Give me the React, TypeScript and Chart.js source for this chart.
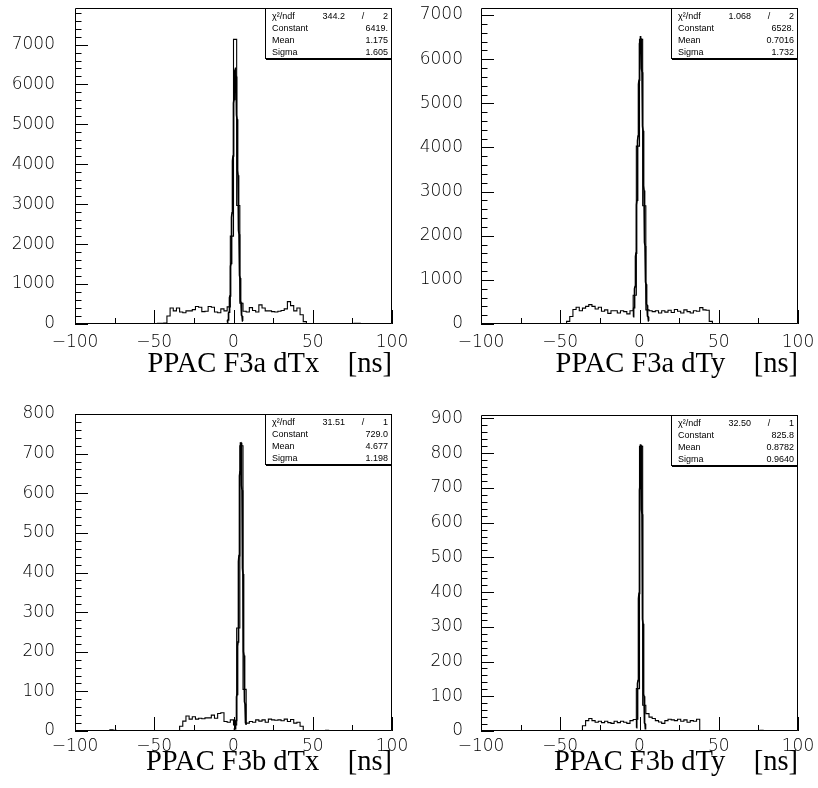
import { useEffect, useRef } from 'react';
import { Chart, registerables } from 'chart.js';

Chart.register(...registerables);

// All four histograms use 100 bins of 2 ns from -100 ns to +100 ns.
const binLow = -100;
const binWidth = 2;

// Bin contents, ten bins (20 ns) per row.
const f3aDtxCounts = [
  0, 0, 0, 0, 0, 0, 0, 0, 0, 0, // -100 .. -82
  0, 0, 0, 0, 0, 0, 0, 0, 0, 0, // -80 .. -62
  0, 0, 0, 0, 0, 0, 15, 20, 25, 200, // -60 .. -42
  400, 330, 400, 300, 280, 330, 330, 360, 440, 420, // -40 .. -22
  310, 320, 440, 420, 300, 280, 380, 330, 430, 2200, // -20 .. -2
  7130, 2970, 520, 320, 300, 410, 340, 300, 480, 400, // 0 .. 18
  330, 330, 310, 300, 320, 340, 380, 560, 460, 330, // 20 .. 38
  400, 230, 60, 0, 0, 0, 0, 0, 0, 0, // 40 .. 58
  0, 0, 0, 0, 0, 0, 0, 0, 15, 15, // 60 .. 78
  0, 0, 0, 0, 0, 0, 0, 0, 0, 0, // 80 .. 98
];

const f3aDtyCounts = [
  0, 0, 0, 0, 0, 0, 0, 0, 0, 0,
  0, 0, 0, 0, 0, 0, 0, 0, 0, 0,
  0, 0, 0, 0, 0, 0, 0, 60, 170, 330,
  380, 300, 360, 400, 440, 400, 340, 380, 290, 320,
  240, 300, 300, 250, 300, 280, 230, 300, 650, 4030,
  6450, 2680, 320, 300, 280, 300, 250, 300, 270, 310,
  260, 330, 290, 250, 320, 280, 250, 300, 290, 370,
  320, 310, 60, 0, 0, 0, 0, 0, 10, 0,
  0, 0, 0, 0, 0, 0, 0, 0, 0, 0,
  0, 0, 0, 0, 0, 0, 0, 0, 0, 0,
];

const f3bDtxCounts = [
  0, 0, 0, 0, 0, 0, 0, 0, 0, 0,
  0, 3, 2, 0, 0, 0, 0, 0, 0, 0,
  0, 0, 0, 0, 0, 0, 0, 0, 0, 0,
  0, 0, 0, 12, 25, 38, 30, 36, 30, 32,
  31, 33, 33, 40, 32, 44, 46, 24, 22, 28,
  15, 260, 720, 105, 20, 24, 22, 28, 25, 28,
  22, 30, 28, 27, 28, 26, 30, 24, 29, 20,
  22, 12, 0, 0, 0, 0, 0, 0, 0, 2,
  0, 0, 0, 0, 0, 0, 0, 0, 0, 0,
  0, 0, 0, 0, 0, 0, 0, 0, 0, 0,
];

const f3bDtyCounts = [
  0, 0, 0, 0, 0, 0, 0, 0, 0, 0,
  0, 0, 0, 0, 0, 0, 0, 0, 0, 0,
  0, 0, 0, 0, 0, 0, 0, 0, 0, 0,
  0, 0, 15, 30, 36, 30, 25, 28, 24, 28,
  24, 22, 28, 24, 28, 25, 22, 30, 33, 122,
  820, 74, 50, 40, 36, 30, 26, 22, 30, 34,
  32, 30, 34, 28, 32, 25, 30, 28, 34, 0,
  0, 0, 0, 0, 0, 0, 0, 0, 0, 0,
  0, 0, 0, 0, 0, 0, 0, 0, 2, 0,
  0, 0, 0, 0, 0, 0, 0, 0, 0, 0,
];

// Gaussian fit results: chi2, ndf, Constant, Mean, Sigma
const f3aDtxFit = ['344.2', '2', '6419.', '1.175', '1.605'];
const f3aDtyFit = ['1.068', '2', '6528.', '0.7016', '1.732'];
const f3bDtxFit = ['31.51', '1', '729.0', '4.677', '1.198'];
const f3bDtyFit = ['32.50', '1', '825.8', '0.8782', '0.9640'];

// Fit ranges (ns)
const f3aDtxFitRange = [-4, 6];
const f3aDtyFitRange = [-4, 6];
const f3bDtxFitRange = [0, 8];
const f3bDtyFitRange = [-2, 4];

// Axis ranges and labelled ticks
const xTicks = [-100, -50, 0, 50, 100];
const f3aYTicks = [0, 1000, 2000, 3000, 4000, 5000, 6000, 7000];
const f3bDtxYTicks = [0, 100, 200, 300, 400, 500, 600, 700, 800];
const f3bDtyYTicks = [0, 100, 200, 300, 400, 500, 600, 700, 800, 900];
const f3aDtxYMax = 7915;
const f3aDtyYMax = 7160;
const f3bDtxYMax = 800;
const f3bDtyYMax = 910;

const titles = ['PPAC F3a dTx    [ns]', 'PPAC F3a dTy    [ns]', 'PPAC F3b dTx    [ns]', 'PPAC F3b dTy    [ns]'];

type Spec = {
  counts: number[];
  fit: string[];
  fitRange: number[];
  yTicks: number[];
  yMax: number;
  yMajor: number;
  yMinor: number;
  title: string;
  left: number;
  top: number;
  width: number;
  height: number;
  area: { l: number; t: number; r: number; b: number };
  yLabelPad: number;
  xLabelPad: number;
  titlePad: number;
};

const specs: Spec[] = [
  {
    counts: f3aDtxCounts, fit: f3aDtxFit, fitRange: f3aDtxFitRange, yTicks: f3aYTicks, yMax: f3aDtxYMax,
    yMajor: 1000, yMinor: 200, title: titles[0],
    left: 0, top: 0, width: 420, height: 394, area: { l: 75, t: 8, r: 392, b: 324 },
    yLabelPad: 20, xLabelPad: 10, titlePad: 15.5,
  },
  {
    counts: f3aDtyCounts, fit: f3aDtyFit, fitRange: f3aDtyFitRange, yTicks: f3aYTicks, yMax: f3aDtyYMax,
    yMajor: 1000, yMinor: 200, title: titles[1],
    left: 400, top: 0, width: 418, height: 394, area: { l: 81, t: 8, r: 398, b: 324 },
    yLabelPad: 18, xLabelPad: 10, titlePad: 15.5,
  },
  {
    counts: f3bDtxCounts, fit: f3bDtxFit, fitRange: f3bDtxFitRange, yTicks: f3bDtxYTicks, yMax: f3bDtxYMax,
    yMajor: 100, yMinor: 20, title: titles[2],
    left: 0, top: 394, width: 420, height: 394, area: { l: 75, t: 20, r: 392, b: 337 },
    yLabelPad: 20, xLabelPad: 7.5, titlePad: 11,
  },
  {
    counts: f3bDtyCounts, fit: f3bDtyFit, fitRange: f3bDtyFitRange, yTicks: f3bDtyYTicks, yMax: f3bDtyYMax,
    yMajor: 100, yMinor: 20, title: titles[3],
    left: 400, top: 394, width: 418, height: 394, area: { l: 81, t: 21, r: 398, b: 337 },
    yLabelPad: 18, xLabelPad: 7.5, titlePad: 11,
  },
];

const labelFont = { family: "'DejaVu Sans', sans-serif", size: 17, weight: '200' as any, lineHeight: 1 };

function histogramPoints(counts: number[]) {
  const pts = counts.map((c, i) => ({ x: binLow + i * binWidth, y: c }));
  pts.push({ x: binLow + counts.length * binWidth, y: counts[counts.length - 1] });
  return pts;
}

function gaussPoints(fit: string[], range: number[]) {
  const c = Number(fit[2]);
  const m = Number(fit[3]);
  const s = Number(fit[4]);
  const pts: { x: number; y: number }[] = [];
  const n = 200;
  for (let i = 0; i <= n; i++) {
    const x = range[0] + ((range[1] - range[0]) * i) / n;
    pts.push({ x, y: c * Math.exp(-0.5 * ((x - m) / s) ** 2) });
  }
  return pts;
}

function fmtTick(v: number) {
  return v < 0 ? '\u2212' + String(-v) : String(v);
}

// keep the plot frame exactly where the layout padding puts it
function dropScalePadding(s: any) {
  s.paddingTop = 0;
  s.paddingBottom = 0;
  s.paddingLeft = 0;
  s.paddingRight = 0;
}

function decorPlugin(spec: Spec) {
  return {
    id: 'rootDecor',
    afterDatasetsDraw(chart: any) {
      const { ctx, chartArea: a } = chart;
      const xs = chart.scales.x;
      const ys = chart.scales.y;
      ctx.save();
      ctx.strokeStyle = '#000';
      ctx.lineWidth = 1;

      // statistics box in the upper right corner
      const bw = 127;
      const bh = 51;
      const bx = a.right - bw;
      const by = a.top;
      ctx.fillStyle = '#fff';
      ctx.fillRect(bx, by, bw, bh);
      ctx.strokeRect(bx + 0.5, by + 0.5, bw - 1, bh - 1);
      ctx.beginPath();
      ctx.moveTo(bx + 1, by + bh + 0.5);
      ctx.lineTo(a.right, by + bh + 0.5);
      ctx.stroke();

      ctx.fillStyle = '#000';
      ctx.font = "9px 'Liberation Sans', sans-serif";
      ctx.textBaseline = 'alphabetic';
      const names = ['\u03c7\u00b2/ndf', 'Constant', 'Mean', 'Sigma'];
      const base = by + 10.5;
      names.forEach((nm, i) => {
        ctx.textAlign = 'left';
        ctx.fillText(nm, bx + 7, base + 12 * i);
      });
      ctx.textAlign = 'right';
      ctx.fillText(spec.fit[0], bx + 80, base);
      ctx.textAlign = 'center';
      ctx.fillText('/', bx + 98, base);
      ctx.textAlign = 'right';
      ctx.fillText(spec.fit[1], a.right - 4, base);
      ctx.fillText(spec.fit[2], a.right - 4, base + 12);
      ctx.fillText(spec.fit[3], a.right - 4, base + 24);
      ctx.fillText(spec.fit[4], a.right - 4, base + 36);

      // frame
      ctx.beginPath();
      ctx.rect(a.left + 0.5, a.top + 0.5, a.right - a.left - 1, a.bottom - a.top - 1);
      ctx.stroke();

      // inward tick marks
      ctx.beginPath();
      for (let v = -100; v <= 100; v += 25) {
        const px = Math.round(xs.getPixelForValue(v)) + 0.5;
        const len = v % 50 === 0 ? 14 : 6;
        ctx.moveTo(px, a.bottom);
        ctx.lineTo(px, a.bottom - len);
      }
      for (let v = 0; v <= spec.yMax + 1e-6; v += spec.yMinor) {
        const py = Math.round(ys.getPixelForValue(v)) + 0.5;
        const len = v % spec.yMajor === 0 ? 13 : 6.5;
        ctx.moveTo(a.left, py);
        ctx.lineTo(a.left + len, py);
      }
      ctx.stroke();
      ctx.restore();
    },
  };
}

function Panel({ spec }: { spec: Spec }) {
  const ref = useRef<HTMLCanvasElement>(null);
  useEffect(() => {
    const canvas = ref.current;
    if (!canvas) return;
    const chart = new Chart(canvas, {
      type: 'line',
      data: {
        datasets: [
          {
            data: histogramPoints(spec.counts),
            stepped: true,
            borderColor: '#000',
            borderWidth: 1.1,
            pointRadius: 0,
            fill: false,
          },
          {
            data: gaussPoints(spec.fit, spec.fitRange),
            borderColor: '#000',
            borderWidth: 1.7,
            pointRadius: 0,
            tension: 0,
            fill: false,
          },
        ],
      },
      options: {
        animation: false,
        responsive: false,
        maintainAspectRatio: false,
        events: [],
        layout: {
          autoPadding: false,
          padding: { left: 0, top: spec.area.t, right: spec.width - spec.area.r, bottom: 0 },
        },
        plugins: { legend: { display: false }, tooltip: { enabled: false } },
        scales: {
          x: {
            type: 'linear',
            position: 'bottom',
            min: -100,
            max: 100,
            grid: { display: false, drawTicks: false },
            border: { display: false },
            afterBuildTicks: (s: any) => {
              s.ticks = xTicks.map((v) => ({ value: v }));
            },
            afterFit: (s: any) => {
              s.height = spec.height - spec.area.b;
              dropScalePadding(s);
            },
            ticks: {
              autoSkip: false,
              maxRotation: 0,
              padding: spec.xLabelPad,
              color: '#000',
              font: labelFont,
              callback: (v: any) => fmtTick(Number(v)),
            },
            title: {
              display: true,
              text: spec.title,
              align: 'end',
              color: '#000',
              font: { family: "'Liberation Serif', serif", size: 28.5, lineHeight: 1 },
              padding: { top: 0, bottom: spec.titlePad },
            },
          },
          y: {
            type: 'linear',
            min: 0,
            max: spec.yMax,
            grid: { display: false, drawTicks: false },
            border: { display: false },
            afterBuildTicks: (s: any) => {
              s.ticks = spec.yTicks.map((v) => ({ value: v }));
            },
            afterFit: (s: any) => {
              s.width = spec.area.l;
              dropScalePadding(s);
            },
            ticks: {
              autoSkip: false,
              padding: spec.yLabelPad,
              color: '#000',
              font: labelFont,
              callback: (v: any) => fmtTick(Number(v)),
            },
          },
        },
      } as any,
      plugins: [decorPlugin(spec)],
    });
    return () => chart.destroy();
  }, [spec]);
  return (
    <canvas
      ref={ref}
      width={spec.width}
      height={spec.height}
      style={{ position: 'absolute', left: spec.left, top: spec.top, width: spec.width, height: spec.height }}
    />
  );
}

export default function App() {
  return (
    <div style={{ position: 'absolute', left: 0, top: 0, width: 818, height: 788, background: '#fff', overflow: 'hidden' }}>
      {specs.map((s, i) => (
        <Panel key={i} spec={s} />
      ))}
    </div>
  );
}
